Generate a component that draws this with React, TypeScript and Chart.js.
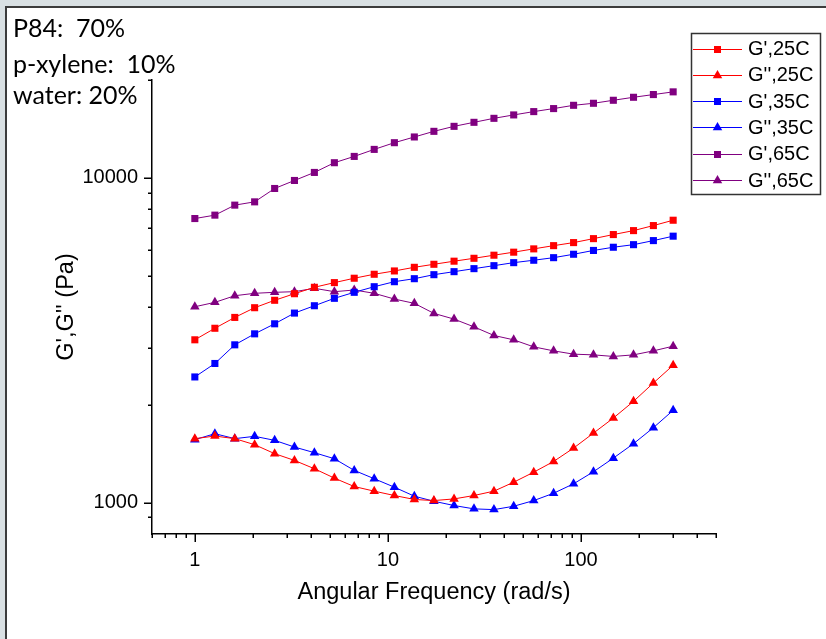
import React, { useEffect, useRef } from "react";
import { Chart, registerables } from "chart.js";
Chart.register(...registerables);

// Angular frequency (rad/s)
const frequency = [1, 1.27, 1.61, 2.04, 2.59, 3.28, 4.16, 5.28, 6.69, 8.49, 10.8, 13.7, 17.3, 22.0, 27.9, 35.4, 44.8, 56.9, 72.1, 91.5, 116, 147, 187, 237, 300];

// Moduli (Pa)
const gPrime25 = [3170, 3440, 3715, 3980, 4195, 4395, 4600, 4755, 4905, 5045, 5165, 5300, 5415, 5535, 5650, 5775, 5900, 6040, 6180, 6315, 6495, 6685, 6875, 7125, 7400];
const gDouble25 = [1573, 1602, 1573, 1507, 1414, 1348, 1271, 1189, 1120, 1084, 1051, 1022, 1014, 1026, 1051, 1084, 1155, 1240, 1338, 1471, 1636, 1820, 2049, 2334, 2647];
const gPrime35 = [2436, 2680, 3059, 3307, 3551, 3831, 4036, 4254, 4439, 4619, 4786, 4889, 5030, 5139, 5250, 5362, 5478, 5572, 5675, 5814, 5973, 6110, 6223, 6405, 6609];
const gDouble35 = [1562, 1629, 1573, 1599, 1554, 1482, 1424, 1364, 1256, 1184, 1115, 1046, 1009, 979, 956, 951, 974, 1014, 1068, 1142, 1244, 1370, 1518, 1700, 1923];
const gPrime65 = [7489, 7672, 8236, 8430, 9268, 9810, 10385, 11126, 11634, 12228, 12823, 13354, 13898, 14399, 14816, 15241, 15613, 15985, 16331, 16715, 16956, 17322, 17694, 18038, 18387];
const gDouble65 = [4007, 4134, 4333, 4408, 4439, 4459, 4567, 4459, 4512, 4408, 4232, 4105, 3823, 3671, 3475, 3269, 3169, 3015, 2931, 2863, 2849, 2817, 2849, 2931, 3030];

const seriesNames = ["G',25C", "G'',25C", "G',35C", "G'',35C", "G',65C", "G'',65C"];
const seriesColors = ["#ff0000", "#ff0000", "#0000ff", "#0000ff", "#800080", "#800080"];
const seriesMarkers = ["rect", "triangle", "rect", "triangle", "rect", "triangle"];
const seriesValues = [gPrime25, gDouble25, gPrime35, gDouble35, gPrime65, gDouble65];

// Axis ticks
const xTickValues = [0.6, 0.7, 0.8, 0.9, 1, 2, 3, 4, 5, 6, 7, 8, 9, 10, 20, 30, 40, 50, 60, 70, 80, 90, 100, 200, 300, 400, 500];
const xTickLabels = [1, 10, 100];
const yTickValues = [900, 1000, 2000, 3000, 4000, 5000, 6000, 7000, 8000, 9000, 10000, 20000];
const yTickLabels = [1000, 10000];

const noteLines = ["P84:  70%", "p-xylene:  10%", "water: 20%"];

const isDecade = (v: number) => Math.abs(Math.log10(v) - Math.round(Math.log10(v))) < 1e-9;

const tickMarksPlugin = {
  id: "tickMarks",
  afterDraw(chart: any) {
    const { ctx, chartArea } = chart;
    const xs = chart.scales.x;
    const ys = chart.scales.y;
    ctx.save();
    ctx.strokeStyle = "#000";
    ctx.lineWidth = 1.5;
    ctx.beginPath();
    xs.ticks.forEach((t: any) => {
      const px = Math.round(xs.getPixelForValue(t.value)) + 0.25;
      const len = isDecade(t.value) ? 8 : 4;
      ctx.moveTo(px, chartArea.bottom);
      ctx.lineTo(px, chartArea.bottom + len);
    });
    ys.ticks.forEach((t: any) => {
      const py = Math.round(ys.getPixelForValue(t.value)) + 0.25;
      const len = isDecade(t.value) ? 8 : 4;
      ctx.moveTo(chartArea.left, py);
      ctx.lineTo(chartArea.left - len, py);
    });
    ctx.stroke();
    ctx.restore();
  },
};

const drawMarker = (ctx: CanvasRenderingContext2D, kind: string, x: number, y: number, color: string) => {
  ctx.fillStyle = color;
  ctx.beginPath();
  if (kind === "rect") {
    ctx.rect(x - 3.5, y - 3.5, 7, 7);
  } else {
    const r = 5.5;
    ctx.moveTo(x, y - r);
    ctx.lineTo(x + r * 0.866, y + r / 2);
    ctx.lineTo(x - r * 0.866, y + r / 2);
    ctx.closePath();
  }
  ctx.fill();
};

const legendPlugin = {
  id: "customLegend",
  afterDraw(chart: any) {
    const ctx = chart.ctx as CanvasRenderingContext2D;
    ctx.save();
    // legend box
    ctx.fillStyle = "#ffffff";
    ctx.fillRect(691, 33, 130, 162);
    ctx.strokeStyle = "#333";
    ctx.lineWidth = 1.5;
    ctx.strokeRect(691.5, 33.5, 129, 161);
    ctx.font = "20px 'Liberation Sans', Arial, sans-serif";
    ctx.textBaseline = "middle";
    ctx.textAlign = "left";
    seriesNames.forEach((name, i) => {
      const y = 48.5 + i * 26.3;
      ctx.strokeStyle = seriesColors[i];
      ctx.lineWidth = 1;
      ctx.beginPath();
      ctx.moveTo(693, Math.round(y) + 0.5);
      ctx.lineTo(742, Math.round(y) + 0.5);
      ctx.stroke();
      drawMarker(ctx, seriesMarkers[i], 717.5, Math.round(y) + 0.5, seriesColors[i]);
      ctx.fillStyle = "#000";
      ctx.fillText(name, 748, y + 1);
    });
    // annotation text
    ctx.font = "25px Lato, 'Open Sans', sans-serif";
    ctx.textBaseline = "alphabetic";
    ctx.fillStyle = "#000";
    const baselines = [37, 72.5, 104];
    noteLines.forEach((line, i) => ctx.fillText(line, 13, baselines[i]));
    ctx.restore();
  },
};

export default function App() {
  const canvasRef = useRef<HTMLCanvasElement | null>(null);

  useEffect(() => {
    const canvas = canvasRef.current;
    if (!canvas) return;
    const datasets = seriesValues.map((vals, i) => ({
      label: seriesNames[i],
      data: vals.map((v, j) => ({ x: frequency[j], y: v })),
      borderColor: seriesColors[i],
      backgroundColor: seriesColors[i],
      borderWidth: 1,
      pointStyle: seriesMarkers[i],
      pointRadius: seriesMarkers[i] === "rect" ? 5 : 5.5,
      pointBorderWidth: 0,
      pointBackgroundColor: seriesColors[i],
      tension: 0,
      fill: false,
      clip: false as any,
    }));
    const chart = new Chart(canvas, {
      type: "line",
      data: { datasets },
      plugins: [tickMarksPlugin, legendPlugin],
      options: {
        animation: false,
        responsive: false,
        devicePixelRatio: 1,
        layout: { padding: { left: 0, top: 80, right: 110, bottom: 0 } },
        plugins: { legend: { display: false }, tooltip: { enabled: false } },
        scales: {
          x: {
            type: "logarithmic",
            min: 0.6,
            max: 500,
            afterBuildTicks: (scale: any) => {
              scale.ticks = xTickValues.map((v) => ({ value: v, major: false }));
            },
            afterFit: (scale: any) => {
              scale.height = 105;
            },
            grid: { display: false, drawTicks: true, tickLength: 8 },
            border: { display: true, color: "#000", width: 1.5 },
            ticks: {
              autoSkip: false,
              maxRotation: 0,
              padding: 6,
              color: "#000",
              font: { family: "'Liberation Sans', Arial, sans-serif", size: 20 },
              callback: (v: any) => (xTickLabels.includes(Number(v)) ? String(v) : ""),
            },
            title: {
              display: true,
              text: "Angular Frequency (rad/s)",
              color: "#000",
              font: { family: "'Liberation Sans', Arial, sans-serif", size: 23.5 },
              padding: { top: 0, bottom: 32 },
            },
          },
          y: {
            type: "logarithmic",
            min: 800,
            max: 20000,
            afterBuildTicks: (scale: any) => {
              scale.ticks = yTickValues.map((v) => ({ value: v, major: false }));
            },
            afterFit: (scale: any) => {
              scale.width = 152;
            },
            grid: { display: false, drawTicks: true, tickLength: 8 },
            border: { display: true, color: "#000", width: 1.5 },
            ticks: {
              autoSkip: false,
              padding: 6,
              color: "#000",
              font: { family: "'Liberation Sans', Arial, sans-serif", size: 20 },
              callback: (v: any) => (yTickLabels.includes(Number(v)) ? String(v) : ""),
            },
            title: {
              display: true,
              text: "G',G'' (Pa)",
              color: "#000",
              font: { family: "'Liberation Sans', Arial, sans-serif", size: 23.5 },
              padding: { top: 52, bottom: 0 },
            },
          },
        },
      },
    } as any);
    return () => chart.destroy();
  }, []);

  return (
    <div style={{ position: "fixed", left: 0, top: 0, width: 826, height: 639, background: "#d9e0e3", overflow: "hidden" }}>
      <div
        style={{
          position: "absolute",
          left: 5,
          top: 6,
          width: 840,
          height: 660,
          background: "#ffffff",
          border: "2px solid #3c3c3c",
          boxSizing: "border-box",
        }}
      />
      <canvas
        ref={canvasRef}
        width={826}
        height={639}
        style={{ position: "absolute", left: 0, top: 0, width: 826, height: 639 }}
      />
    </div>
  );
}
